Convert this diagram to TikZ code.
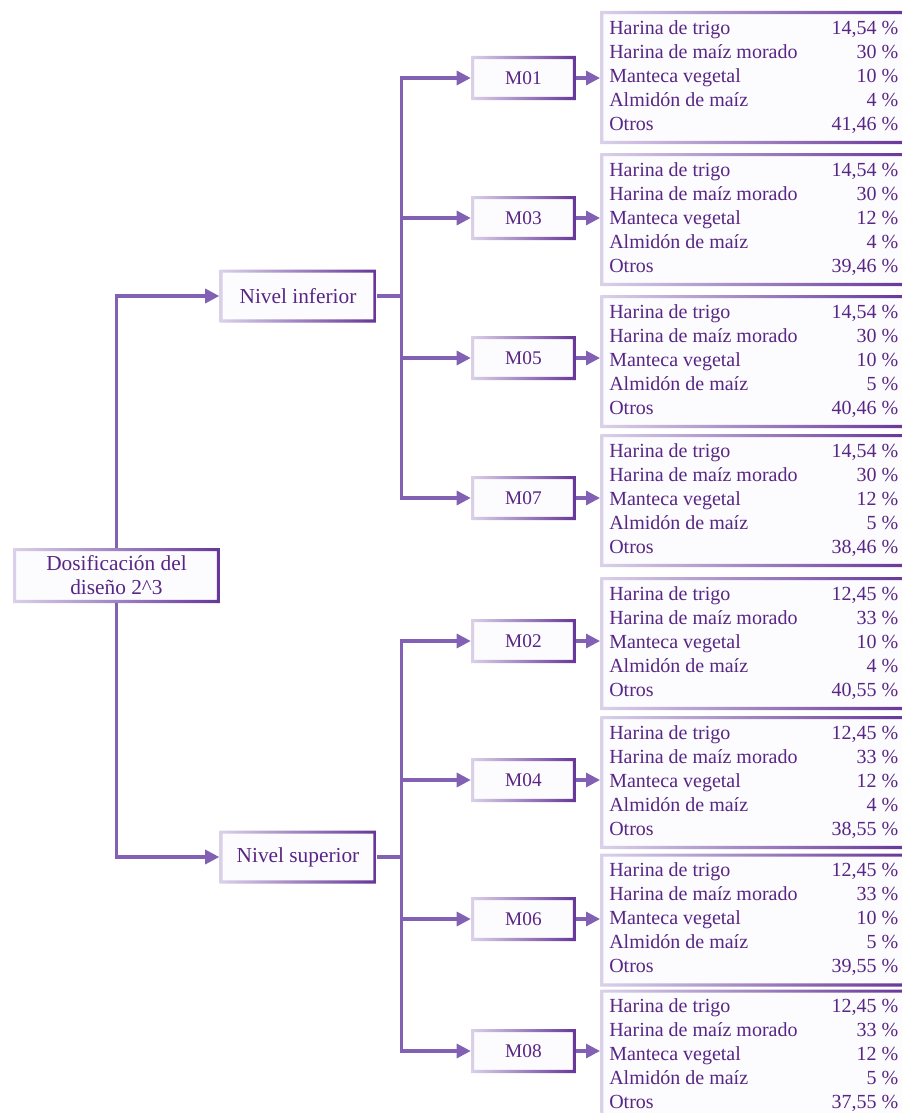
\documentclass[tikz,border=0pt]{standalone}
\usepackage{fontspec}
\setmainfont{Liberation Serif}
\usetikzlibrary{arrows.meta}

\definecolor{linea}{RGB}{130,96,180}
\definecolor{texto}{RGB}{88,38,132}
\definecolor{bordeclaro}{RGB}{218,209,233}
\definecolor{bordeoscuro}{RGB}{102,54,152}
\definecolor{fondo}{RGB}{252,251,254}

\newcommand{\receta}[5]{%
\begin{tabular*}{216.75pt}{@{}l@{\extracolsep{\fill}}r@{}}
Harina de trigo & #1~\% \\
Harina de maíz morado & #2~\% \\
Manteca vegetal & #3~\% \\
Almidón de maíz & #4~\% \\
Otros & #5~\%
\end{tabular*}}

\tikzset{
  caja/.style={fill=fondo, text=texto, inner sep=0pt, align=center,
    path picture={
      \shade[left color=bordeclaro, right color=bordeoscuro, even odd rule]
        (path picture bounding box.south west) rectangle (path picture bounding box.north east)
        ([shift={(2.4pt,2.4pt)}]path picture bounding box.south west)
        rectangle ([shift={(-2.4pt,-2.4pt)}]path picture bounding box.north east);}},
  nivel/.style={caja, minimum width=117.75pt, minimum height=39.75pt,
    font=\fontsize{16pt}{18pt}\selectfont},
  muestra/.style={caja, minimum width=78.75pt, minimum height=33pt,
    font=\fontsize{14.5pt}{18pt}\selectfont},
  receta/.style={caja, anchor=west, minimum height=99.75pt, inner xsep=6.75pt,
    font=\fontsize{15pt}{18pt}\selectfont},
  linea/.style={draw=linea, line width=2.3pt},
  flecha/.style={linea, -{Triangle[length=10.5pt,width=10.5pt]}}
}

\begin{document}
\begin{tikzpicture}[x=0.75pt,y=0.75pt,yscale=-1,xscale=1]
\useasboundingbox (0,0) rectangle (901,1113);

%Root and levels
\node [caja, minimum width=155.25pt, minimum height=41.25pt,
  font=\fontsize{16pt}{18pt}\selectfont] (root) at (116.5,575.5)
  {Dosificación del\\diseño 2\textasciicircum 3};
\node [nivel] (ninf) at (298,296) {Nivel inferior};
\node [nivel] (nsup) at (298,857) {Nivel superior};

%Samples
\node [muestra] (m01) at (523.5,78) {M01};
\node [muestra] (m03) at (523.5,218) {M03};
\node [muestra] (m05) at (523.5,358) {M05};
\node [muestra] (m07) at (523.5,498) {M07};
\node [muestra] (m02) at (523.5,641) {M02};
\node [muestra] (m04) at (523.5,780) {M04};
\node [muestra] (m06) at (523.5,919) {M06};
\node [muestra] (m08) at (523.5,1051) {M08};

%Formulations
\node [receta] (d01) at (600,77.5) {\receta{14,54}{30}{10}{4}{41,46}};
\node [receta] (d03) at (600,219.5) {\receta{14,54}{30}{12}{4}{39,46}};
\node [receta] (d05) at (600,361.5) {\receta{14,54}{30}{10}{5}{40,46}};
\node [receta] (d07) at (600,500.5) {\receta{14,54}{30}{12}{5}{38,46}};
\node [receta] (d02) at (600,643.5) {\receta{12,45}{33}{10}{4}{40,55}};
\node [receta] (d04) at (600,782.5) {\receta{12,45}{33}{12}{4}{38,55}};
\node [receta] (d06) at (600,920) {\receta{12,45}{33}{10}{5}{39,55}};
\node [receta] (d08) at (600,1056) {\receta{12,45}{33}{12}{5}{37,55}};

%Connectors
\draw [flecha] (root.north) |- (ninf.west);
\draw [flecha] (root.south) |- (nsup.west);
\draw [linea] (ninf.east) -- ++(25,0) coordinate (ji);
\draw [linea] (nsup.east) -- ++(25,0) coordinate (js);
\foreach \m in {m01,m03,m05,m07}
  \draw [flecha] (ji) |- (\m.west);
\foreach \m in {m02,m04,m06,m08}
  \draw [flecha] (js) |- (\m.west);
\foreach \m/\d in {m01/d01,m03/d03,m05/d05,m07/d07,m02/d02,m04/d04,m06/d06,m08/d08}
  \draw [flecha] (\m.east) -- (\m.east -| \d.west);

\end{tikzpicture}
\end{document}
